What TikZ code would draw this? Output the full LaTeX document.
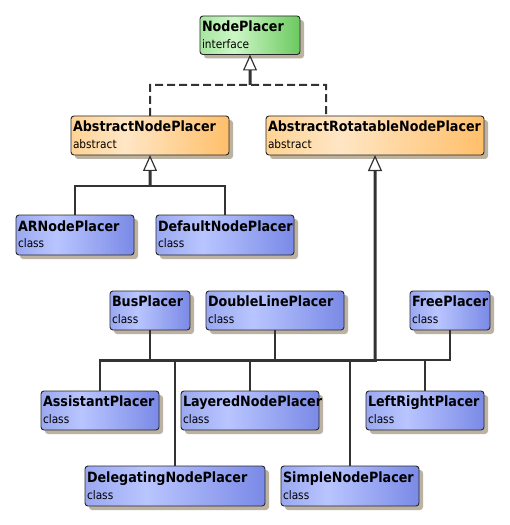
\documentclass[tikz,border=0pt]{standalone}
\usepackage{fontspec}
\setmainfont{DejaVu Sans Condensed}
\usetikzlibrary{arrows.meta,shadows}
\definecolor{lnc}{HTML}{333333}
\definecolor{bL}{HTML}{9AA8F0}
\definecolor{bM}{HTML}{B9C5FF}
\definecolor{bR}{HTML}{7A8AE6}
\definecolor{gL}{HTML}{A6E5A0}
\definecolor{gM}{HTML}{CDF7C6}
\definecolor{gR}{HTML}{6CC960}
\definecolor{oL}{HTML}{FFD394}
\definecolor{oM}{HTML}{FFE6C4}
\definecolor{oR}{HTML}{FFBF6A}
\definecolor{shc}{HTML}{BCB2A2}
\pgfdeclarehorizontalshading{blueshade}{100bp}{color(0bp)=(bL); color(25bp)=(bL); color(42bp)=(bM); color(75bp)=(bR); color(100bp)=(bR)}
\pgfdeclarehorizontalshading{greenshade}{100bp}{color(0bp)=(gL); color(25bp)=(gL); color(42bp)=(gM); color(75bp)=(gR); color(100bp)=(gR)}
\pgfdeclarehorizontalshading{orangeshade}{100bp}{color(0bp)=(oL); color(25bp)=(oL); color(42bp)=(oM); color(75bp)=(oR); color(100bp)=(oR)}
\newcommand{\umlbox}[8]{%
  \node[umlbox,#1,minimum width=#5bp,minimum height=#6bp,text width=#5bp-4bp,anchor=north west] (#2) at (#3,#4)
    {{\fontsize{14.2}{16.8}\selectfont\bfseries #7}\\{\fontsize{11.8}{16.8}\selectfont #8\rule[-1.5pt]{0pt}{1.5pt}}};}
\tikzset{
  umlbox/.style={draw=black!85,line width=0.9bp,rounded corners=3bp,align=left,inner xsep=2bp,inner ysep=0pt,outer sep=0pt,
    font=\fontsize{11.8}{16.8}\selectfont,
    drop shadow={shadow xshift=4bp,shadow yshift=-4bp,fill=shc,opacity=1}},
  clsbox/.style={shading=blueshade},
  intbox/.style={shading=greenshade},
  absbox/.style={shading=orangeshade},
  conn/.style={draw=lnc,line width=2bp},
  thickconn/.style={draw=lnc,line width=3bp},
  dashconn/.style={draw=lnc,line width=2bp,dash pattern=on 8bp off 4bp},
  gentip/.style={-{Triangle[open,width=14bp,length=16bp,line width=1.2bp,fill=white]}}
}
\begin{document}
\begin{tikzpicture}[x=1bp,y=-1bp]
\useasboundingbox (0,0) rectangle (510,525);
\umlbox{intbox}{NP}{200}{16}{100}{38.5}{NodePlacer}{interface}
\umlbox{absbox}{ANP}{71}{116}{158}{39}{AbstractNodePlacer}{abstract}
\umlbox{absbox}{ARNP}{266}{116}{218}{39}{AbstractRotatableNodePlacer}{abstract}
\umlbox{clsbox}{ARN}{16}{215}{118}{40}{ARNodePlacer}{class}
\umlbox{clsbox}{DNP}{156}{215}{138}{40}{DefaultNodePlacer}{class}
\umlbox{clsbox}{Bus}{110}{291}{80}{39}{BusPlacer}{class}
\umlbox{clsbox}{DLP}{206}{291}{138}{39}{DoubleLinePlacer}{class}
\umlbox{clsbox}{Free}{410}{291}{80}{39}{FreePlacer}{class}
\umlbox{clsbox}{Asst}{41}{391}{118}{39}{AssistantPlacer}{class}
\umlbox{clsbox}{Lay}{181}{391}{138}{39}{LayeredNodePlacer}{class}
\umlbox{clsbox}{LR}{366}{391}{118}{39}{LeftRightPlacer}{class}
\umlbox{clsbox}{Deleg}{85}{466}{180}{40}{DelegatingNodePlacer}{class}
\umlbox{clsbox}{Simple}{281}{466}{138}{40}{SimpleNodePlacer}{class}
% realization
\coordinate (jr) at (250,85);
\coordinate (jrl) at (150,85);
\coordinate (jrr) at (326,85);
\draw[dashconn] (ANP.north) -- (jrl) -- (jrr) -- (jrr |- ARNP.north);
\draw[thickconn,gentip] (jr) -- (NP.south);
% AbstractNodePlacer generalization
\coordinate (ja) at (150,186);
\draw[conn] (ARN.north) |- (ja) -| (DNP.north);
\draw[thickconn,gentip] (ja) -- (ANP.south);
% AbstractRotatableNodePlacer generalization
\coordinate (jb) at (375,360);
\coordinate (jbl) at (100,360);
\draw[conn] (jb) -| (Free.south);
\draw[conn] (Bus.south) -- (Bus.south |- jb);
\draw[conn] (DLP.south) -- (DLP.south |- jb);
\draw[conn] (Asst.north) -- (Asst.north |- jb);
\draw[conn] (Lay.north) -- (Lay.north |- jb);
\draw[conn] (LR.north) -- (LR.north |- jb);
\draw[conn] (Deleg.north) -- (Deleg.north |- jb);
\draw[conn] (Simple.north) -- (Simple.north |- jb);
\draw[thickconn,line cap=rect] (jbl) -- (jb);
\draw[thickconn,gentip] (jb) -- (ARNP.south);
\end{tikzpicture}
\end{document}
